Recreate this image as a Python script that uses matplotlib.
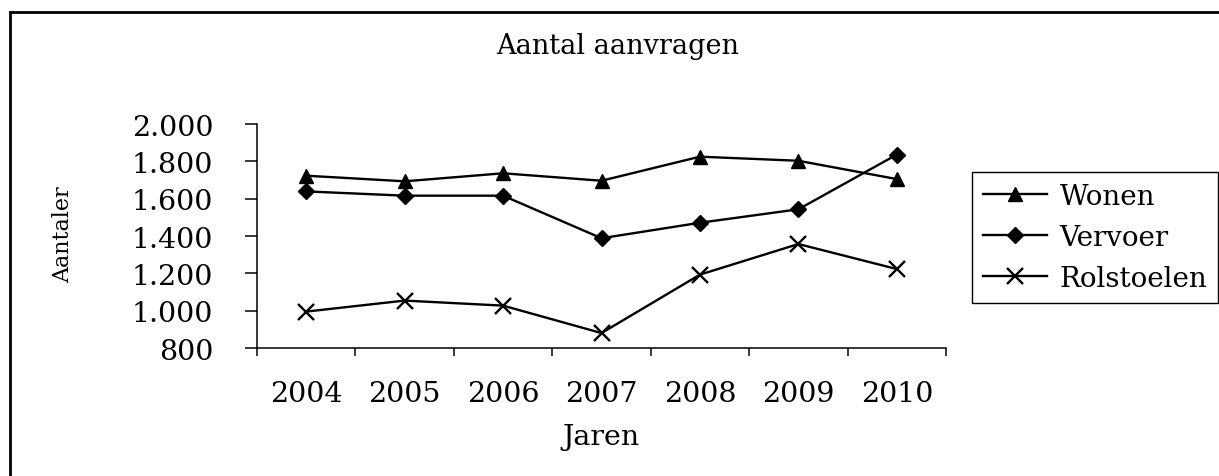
import matplotlib
matplotlib.use('Agg')
import matplotlib.pyplot as plt
from matplotlib.lines import Line2D
from matplotlib.ticker import FuncFormatter

jaren = ['2004', '2005', '2006', '2007', '2008', '2009', '2010']
wonen = [1723, 1693, 1736, 1696, 1825, 1803, 1705]
vervoer = [1639, 1616, 1616, 1388, 1471, 1543, 1836]
rolstoelen = [995, 1054, 1027, 880, 1193, 1357, 1223]

plt.rcParams['font.family'] = ['DejaVu Serif']

W, H = 1219, 477
fig = plt.figure(figsize=(W / 100, H / 100), dpi=100)
ax = fig.add_axes([257 / W, 1 - 349 / H, 689 / W, 224 / H])

x = list(range(len(jaren)))
ax.plot(x, wonen, color='black', lw=1.7, marker='^', ms=10.5, label='Wonen')
ax.plot(x, vervoer, color='black', lw=1.7, marker='D', ms=8, label='Vervoer')
ax.plot(x, rolstoelen, color='black', lw=1.7, marker='x', ms=11.5, mew=1.7, label='Rolstoelen')

ax.set_xlim(-0.5, len(jaren) - 0.5)
ax.set_ylim(800, 2000)
ax.set_yticks(range(800, 2001, 200))
ax.yaxis.set_major_formatter(FuncFormatter(lambda v, p: f'{int(v):,}'.replace(',', '.')))
ax.set_xticks(x)
ax.set_xticklabels(jaren)
ax.set_xticks([i - 0.5 for i in range(len(jaren) + 1)], minor=True)

ax.tick_params(axis='x', which='major', length=0, pad=23, labelsize=20.5)
ax.tick_params(axis='x', which='minor', length=6, width=1.1, direction='out')
ax.tick_params(axis='y', length=8.6, width=1.1, pad=23, labelsize=20.5)

for s in ['top', 'right']:
    ax.spines[s].set_visible(False)
for s in ['left', 'bottom']:
    ax.spines[s].set_linewidth(1.1)

fig.text(618 / W, 1 - 47 / H, 'Aantal aanvragen', ha='center', va='center', fontsize=19.5)
fig.text(601 / W, 1 - 438 / H, 'Jaren', ha='center', va='center', fontsize=20.5)
fig.text(63 / W, 1 - 235 / H, 'Aantaler', ha='center', va='center', rotation=90, fontsize=16)

leg = ax.legend(loc='upper left', bbox_to_anchor=(972 / W, 1 - 173 / H),
                bbox_transform=fig.transFigure, borderaxespad=0, fontsize=20,
                handlelength=2.3, handletextpad=0.45, labelspacing=0.5,
                borderpad=0.4, fancybox=False, framealpha=1)
leg.get_frame().set_edgecolor('black')
leg.get_frame().set_linewidth(1.0)

# outer frame (top and left edge)
fig.add_artist(Line2D([10 / W, 1], [1 - 13 / H, 1 - 13 / H], color='black', lw=2, transform=fig.transFigure))
fig.add_artist(Line2D([10 / W, 10 / W], [0, 1 - 13 / H], color='black', lw=2, transform=fig.transFigure))

fig.savefig('out.png', dpi=100)
